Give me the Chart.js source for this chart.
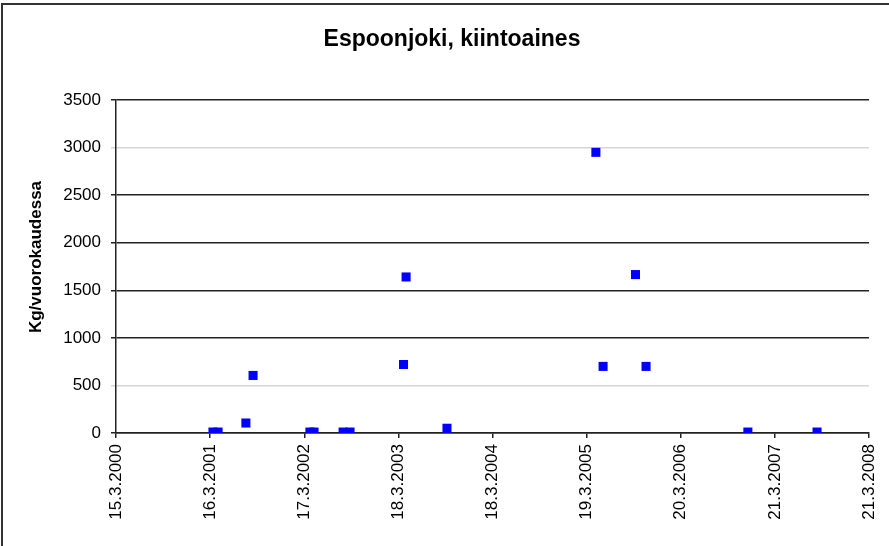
<!DOCTYPE html>
<html>
<head>
<meta charset="utf-8">
<title>Espoonjoki, kiintoaines</title>
<script src="https://cdn.jsdelivr.net/npm/chart.js@4/dist/chart.umd.min.js"></script>
<style>
  html, body { margin: 0; padding: 0; background: #fff; }
  #wrap { position: relative; width: 889px; height: 546px; overflow: hidden; }
  #frame { position: absolute; left: 1px; top: 3px; right: 0; bottom: 0;
           border-left: 2px solid #333; border-top: 2px solid #333; pointer-events: none; }
  canvas { position: absolute; left: 0; top: 0; }
</style>
</head>
<body>
<div id="wrap">
  <canvas id="chart" width="889" height="546"></canvas>
  <div id="frame"></div>
</div>
<script>
/* ---------- data ---------- */
const chartTitle = "Espoonjoki, kiintoaines";
const yTitle     = "Kg/vuorokaudessa";

// sample dates (d.m.yyyy) and loads in kg/day
const sampleDates = [
  "27.3.2001", "16.4.2001", "2.8.2001", "30.8.2001",
  "8.4.2002", "24.4.2002", "15.8.2002", "11.9.2002",
  "7.4.2003", "17.4.2003", "23.9.2003",
  "24.4.2005", "22.5.2005", "25.9.2005", "5.11.2005",
  "6.12.2006", "1.9.2007"
];
const loads = [
  10, 10, 105, 605,
  10, 10, 10, 10,
  720, 1640, 50,
  2950, 700, 1665, 700,
  10, 10
];

// x axis: Excel-style date axis starting 15.3.2000, major unit 366 days
const xStart      = "15.3.2000";
const xStepDays   = 366;
const xTickLabels = ["15.3.2000", "16.3.2001", "17.3.2002", "18.3.2003", "18.3.2004",
                     "19.3.2005", "20.3.2006", "21.3.2007", "21.3.2008"];
const yTicks      = [0, 500, 1000, 1500, 2000, 2500, 3000, 3500];
const yLightLines = [500, 3000];   // these gridlines come out pale in the picture

/* ---------- helpers ---------- */
function parseFi(s) {
  const [d, m, y] = s.split(".").map(Number);
  return Date.UTC(y, m - 1, d);
}
const t0 = parseFi(xStart);
const dayOf = s => Math.round((parseFi(s) - t0) / 864e5);

const points = sampleDates.map((d, i) => ({ x: dayOf(d), y: loads[i] }));

const FONT = "'Liberation Sans', Arial, sans-serif";
const INK  = "#000";
const LINE = "#222";

// titles are drawn by hand so they sit where Excel put them
const titlesPlugin = {
  id: "titles",
  afterDraw(chart) {
    const { ctx, chartArea } = chart;
    ctx.save();
    ctx.fillStyle = INK;
    ctx.textAlign = "center";
    ctx.textBaseline = "middle";
    ctx.font = `bold 23px ${FONT}`;
    ctx.fillText(chartTitle, 452, 40);

    ctx.translate(36, chartArea.top + 157);
    ctx.rotate(-Math.PI / 2);
    ctx.font = `bold 17px ${FONT}`;
    ctx.fillText(yTitle, 0, 0);
    ctx.restore();
  }
};

/* ---------- chart ---------- */
new Chart(document.getElementById("chart"), {
  type: "scatter",
  data: {
    datasets: [{
      data: points,
      pointStyle: "rect",
      pointRadius: 6.4,
      pointHoverRadius: 6.4,
      pointBorderWidth: 0,
      backgroundColor: "#0000ff",
      borderColor: "#0000ff"
    }]
  },
  options: {
    responsive: false,
    animation: false,
    layout: { padding: { left: 0, right: 20, top: 100, bottom: 0 } },
    plugins: {
      legend: { display: false },
      tooltip: { enabled: false },
      title: { display: false }
    },
    scales: {
      x: {
        type: "linear",
        min: 0,
        max: xStepDays * (xTickLabels.length - 1),
        afterBuildTicks: s => { s.ticks = xTickLabels.map((_, i) => ({ value: i * xStepDays })); },
        afterFit: s => { s.height = 113; s.paddingLeft = 0; s.paddingRight = 0; },
        border: { display: true, color: LINE, width: 1.5 },
        grid: { drawOnChartArea: false, drawTicks: true, tickLength: 5, color: LINE, lineWidth: 1.5 },
        ticks: {
          autoSkip: false,
          minRotation: 90,
          maxRotation: 90,
          padding: 6,
          color: INK,
          font: { family: FONT, size: 17 },
          callback: (v, i) => xTickLabels[i]
        }
      },
      y: {
        min: 0,
        max: 3500,
        afterBuildTicks: s => { s.ticks = yTicks.map(v => ({ value: v })); },
        afterFit: s => { s.width = 116; s.paddingTop = 0; s.paddingBottom = 0; },
        border: { display: true, color: LINE, width: 1.5 },
        grid: {
          drawTicks: true,
          tickLength: 5,
          lineWidth: 1.5,
          color: c => yLightLines.includes(c.tick && c.tick.value) ? "#d6d6d6" : LINE
        },
        ticks: {
          padding: 10,
          color: INK,
          font: { family: FONT, size: 17 },
          callback: v => String(v)
        }
      }
    }
  },
  plugins: [titlesPlugin]
});
</script>
</body>
</html>
